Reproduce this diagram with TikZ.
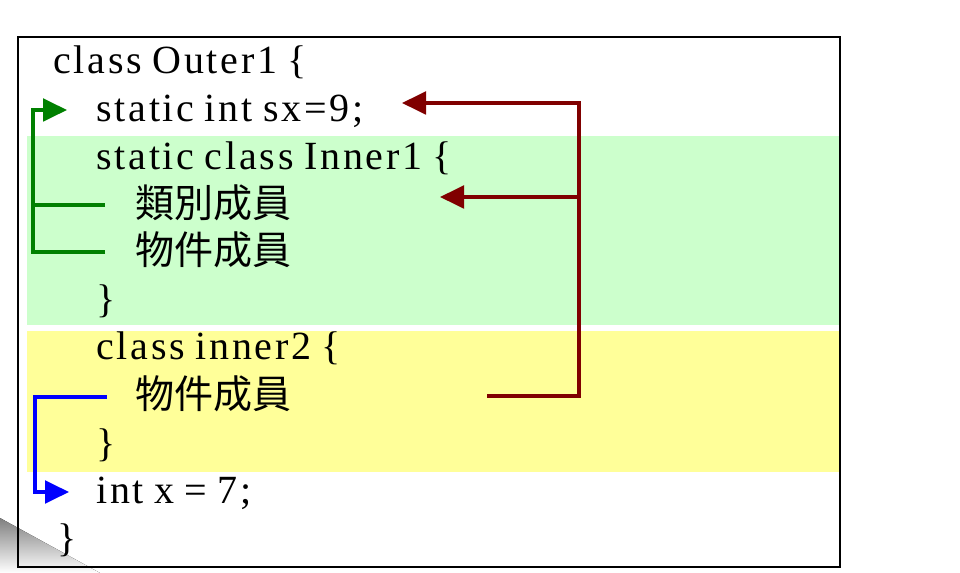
\documentclass[tikz,border=0pt]{standalone}
\usepackage{fontspec}
\setmainfont{Liberation Serif}[LetterSpace=7,WordSpace=0.8]
\newfontfamily\cjk{Noto Sans CJK TC}
\usetikzlibrary{arrows.meta}
\definecolor{darkred}{RGB}{128,0,0}
\definecolor{codegreen}{RGB}{0,128,0}
\definecolor{bandgreen}{RGB}{204,255,204}
\definecolor{bandyellow}{RGB}{255,255,153}
\definecolor{shade}{RGB}{186,184,182}
\begin{document}
\begin{tikzpicture}[x=0.75pt,y=0.75pt,yscale=-1,xscale=1,
  code/.style={anchor=base west,inner sep=0pt,font=\fontsize{30}{30}\selectfont},
  member/.style={anchor=base west,inner sep=0pt,font=\cjk\fontsize{29.3}{29.3}\selectfont},
  link/.style={line width=2.3pt,-{Triangle[length=18pt,width=17pt]}},
  plain/.style={line width=2.3pt}]
\useasboundingbox (0,0) rectangle (960,573);
% shadow and frame
\fill [shade] (0,518) -- (100,573) -- (0,573) -- cycle ;
\draw [line width=1.3pt] (18,37) rectangle (840,567);
% bands
\fill [bandgreen] (27,136) rectangle (839,325);
\fill [bandyellow] (27,331) rectangle (839,472);
% Text Node
\node [code] (outer) at (53,74) {class Outer1 \{};
\node [code] (sx) at (96,122) {static int sx=9;};
\node [code] (inner1) at (96,170) {static class Inner1 \{};
\node [member] (clsmem) at (135,218) {類別成員};
\node [member] (objmem) at (135,265) {物件成員};
\node [code] (endinner1) at (96,313) {\}};
\node [code] (inner2) at (96,360) {class inner2 \{};
\node [member] (objmem2) at (135,408) {物件成員};
\node [code] (endinner2) at (96,456) {\}};
\node [code] (x) at (96,503) {int x = 7;};
\node [code] (endouter) at (57,551) {\}};
% connector ends
\coordinate (sxin) at (402,103);
\coordinate (clsin) at (440,197);
\coordinate (redout) at (487,396);
\coordinate (redbus) at (579,197);
\coordinate (sxleft) at (67,110);
\coordinate (clsout) at (105,205);
\coordinate (objout) at (105,252);
\coordinate (objout2) at (107,397);
\coordinate (xleft) at (69,492);
% Straight Lines
\draw [link,darkred] (redout) -- (redout -| redbus) -- (redbus |- sxin) -- (sxin);
\draw [link,darkred] (redbus) -- (clsin);
\draw [link,codegreen] (objout) -| (33,0 |- sxleft) -- (sxleft);
\draw [plain,codegreen] (clsout) -- (33,0 |- clsout);
\draw [link,blue] (objout2) -- (35,0 |- objout2) |- (xleft);
\end{tikzpicture}
\end{document}
